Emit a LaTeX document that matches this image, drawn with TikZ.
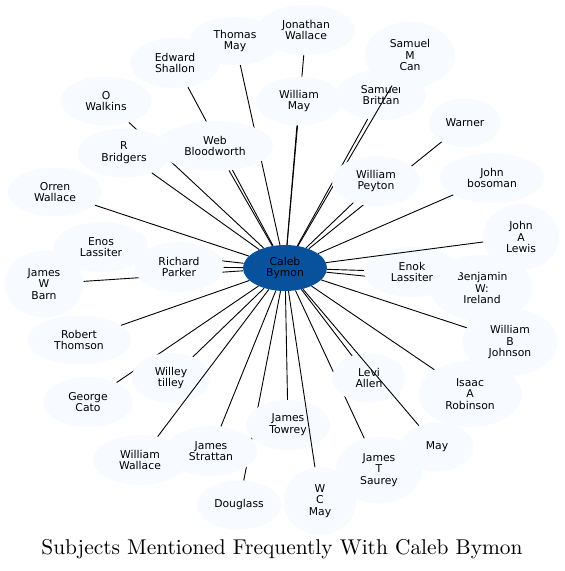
\documentclass[tikz,border=0pt]{standalone}
\usepackage{fontspec}
\newfontfamily\nodefont{DejaVu Sans}
\newfontfamily\titlefont{lmroman10-regular.otf}
\usetikzlibrary{shapes.geometric}
\definecolor{lightnode}{HTML}{F7FBFF}
\definecolor{darknode}{HTML}{08519C}
\tikzset{
  pn/.style={ellipse, fill=lightnode, draw=none, inner sep=0pt, align=center,
    font=\nodefont\fontsize{10.8}{11.7}\selectfont, text=black},
  cn/.style={pn, fill=darknode},
  edge/.style={draw=black, line width=0.9pt},
}
\newcommand{\pnode}[6]{%
  \node[pn, minimum width=#4pt, minimum height=#5pt] (#1) at (#2,#3) {#6};
  \draw[edge] (c) -- (#1);}
\begin{document}
\begin{tikzpicture}[x=1pt, y=-1pt]
\useasboundingbox (0,0) rectangle (565,571);
\node[cn, minimum width=84pt, minimum height=46pt] (c) at (285,268) {Caleb\\Bymon};
\pnode{thomas}{235}{41}{92}{48}{Thomas\\May}
\pnode{edward}{175}{63}{90}{50}{Edward\\Shallon}
\pnode{owalkins}{106}{101}{91}{49}{O\\Walkins}
\pnode{jwallace}{306}{30}{98}{50}{Jonathan\\Wallace}
\pnode{wmay}{299}{101}{86}{49}{William\\May}
\pnode{rbridgers}{124}{153}{93}{49}{R\\Bridgers}
\pnode{web}{215}{146}{116}{50}{Web\\Bloodworth}
\pnode{brittan}{381}{95}{90}{50}{Samuel\\Brittan}
\pnode{mcan}{410}{55}{90}{66}{Samuel\\M\\Can}
\pnode{warner}{465}{123}{72}{49}{Warner}
\pnode{peyton}{376}{181}{88}{50}{William\\Peyton}
\pnode{bosoman}{492}{178}{104}{50}{John\\bosoman}
\pnode{orren}{55}{192}{94}{49}{Orren\\Wallace}
\pnode{enos}{101}{247}{94}{50}{Enos\\Lassiter}
\pnode{jwbarn}{44}{284}{79}{67}{James\\W\\Barn}
\pnode{parker}{179}{267}{89}{50}{Richard\\Parker}
\pnode{benjamin}{482}{288}{103}{66}{Benjamin\\W:\\Ireland}
\pnode{enok}{412}{272}{96}{50}{Enok\\Lassiter}
\pnode{lewis}{521}{237}{76}{66}{John\\A\\Lewis}
\pnode{rthomson}{79}{340}{104}{49}{Robert\\Thomson}
\pnode{wbjohnson}{510}{342}{95}{67}{William\\B\\Johnson}
\pnode{george}{88}{402}{90}{50}{George\\Cato}
\pnode{willey}{171}{378}{79}{50}{Willey\\tilley}
\pnode{wwallace}{140}{460}{94}{50}{William\\Wallace}
\pnode{saurey}{379}{470}{86}{67}{James\\T\\Saurey}
\pnode{levi}{369}{378}{74}{49}{Levi\\Allen}
\pnode{isaac}{470}{394}{104}{66}{Isaac\\A\\Robinson}
\pnode{may}{437}{447}{73}{49}{May}
\pnode{douglass}{239}{505}{85}{49}{Douglass}
\pnode{towrey}{288}{425}{84}{50}{James\\Towrey}
\pnode{strattan}{211}{451}{92}{50}{James\\Strattan}
\pnode{wcmay}{320}{501}{73}{68}{W\\C\\May}
\node[font=\titlefont\fontsize{21.4}{25}\selectfont, inner sep=0pt] (title) at (282,549) {Subjects Mentioned Frequently With Caleb Bymon};
\end{tikzpicture}
\end{document}
